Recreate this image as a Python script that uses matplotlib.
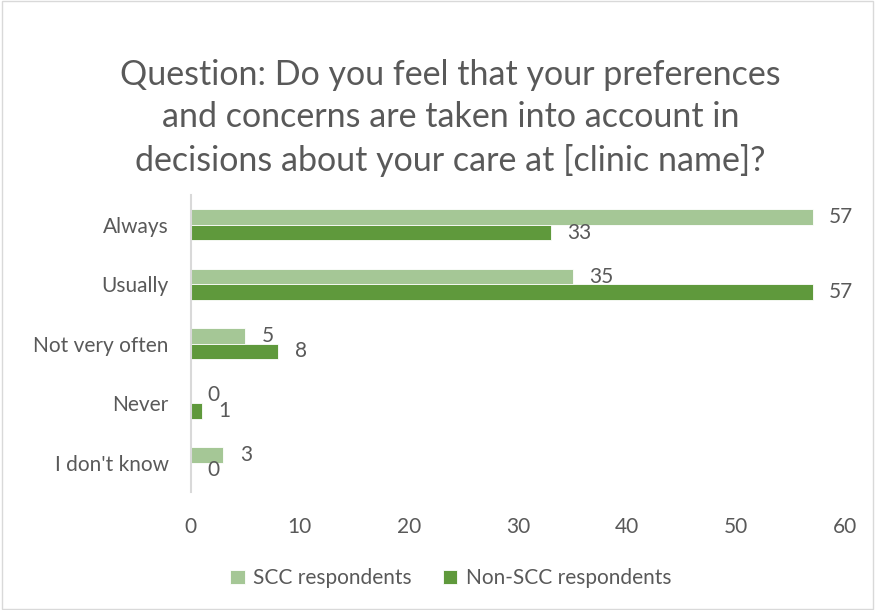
import numpy as np
import matplotlib.pyplot as plt
from matplotlib.patches import Rectangle

categories = ["Always", "Usually", "Not very often", "Never", "I don't know"]
scc = [57, 35, 5, 0, 3]
non_scc = [33, 57, 8, 1, 0]
series_names = ["SCC respondents", "Non-SCC respondents"]
x_ticks = [0, 10, 20, 30, 40, 50, 60]

light_green = "#A5C796"
dark_green = "#5F993C"
text_gray = "#595959"

plt.rcParams['font.family'] = ['Lato', 'DejaVu Sans']

fig = plt.figure(figsize=(8.75, 6.1), dpi=100)
ax = fig.add_axes([0.218, 0.193, 0.748, 0.487])

y = np.arange(len(categories))
h = 0.26
b1 = ax.barh(y - h / 2, scc, height=h, color=light_green, edgecolor="white",
             linewidth=0.6, label=series_names[0])
b2 = ax.barh(y + h / 2, non_scc, height=h, color=dark_green, edgecolor="white",
             linewidth=0.6, label=series_names[1])

for bars in (b1, b2):
    for rect in bars:
        w = rect.get_width()
        yc = rect.get_y() + rect.get_height() / 2
        ax.annotate(f"{w:g}", (w, yc), xytext=(12, 0), textcoords="offset points",
                    ha="left", va="center", fontsize=15, color=text_gray)

ax.set_xlim(0, 60)
ax.set_ylim(len(categories) - 0.5, -0.5)
ax.set_xticks(x_ticks)
ax.set_yticks(y)
ax.set_yticklabels(categories)
ax.tick_params(axis="both", length=0, labelsize=15, colors=text_gray)
ax.tick_params(axis="y", pad=16)
ax.tick_params(axis="x", pad=18)
for side in ("top", "right", "bottom"):
    ax.spines[side].set_visible(False)
ax.spines["left"].set_color("#D9D9D9")
ax.spines["left"].set_linewidth(1.5)

fig.text(0.515, 0.807, "Question: Do you feel that your preferences\n"
         "and concerns are taken into account in\n"
         "decisions about your care at [clinic name]?",
         ha="center", va="center", fontsize=24.5, color=text_gray, linespacing=1.4)

fig.legend(handles=[b1, b2], labels=series_names, loc="center",
           bbox_to_anchor=(0.515, 0.052), ncol=2, frameon=False, fontsize=15,
           labelcolor=text_gray, handlelength=0.7, handleheight=0.7,
           handletextpad=0.4, columnspacing=1.5)

fig.patches.append(Rectangle((0.002, 0.002), 0.996, 0.996, transform=fig.transFigure,
                             fill=False, edgecolor="#D9D9D9", linewidth=1))

fig.savefig("out.png", dpi=100)
